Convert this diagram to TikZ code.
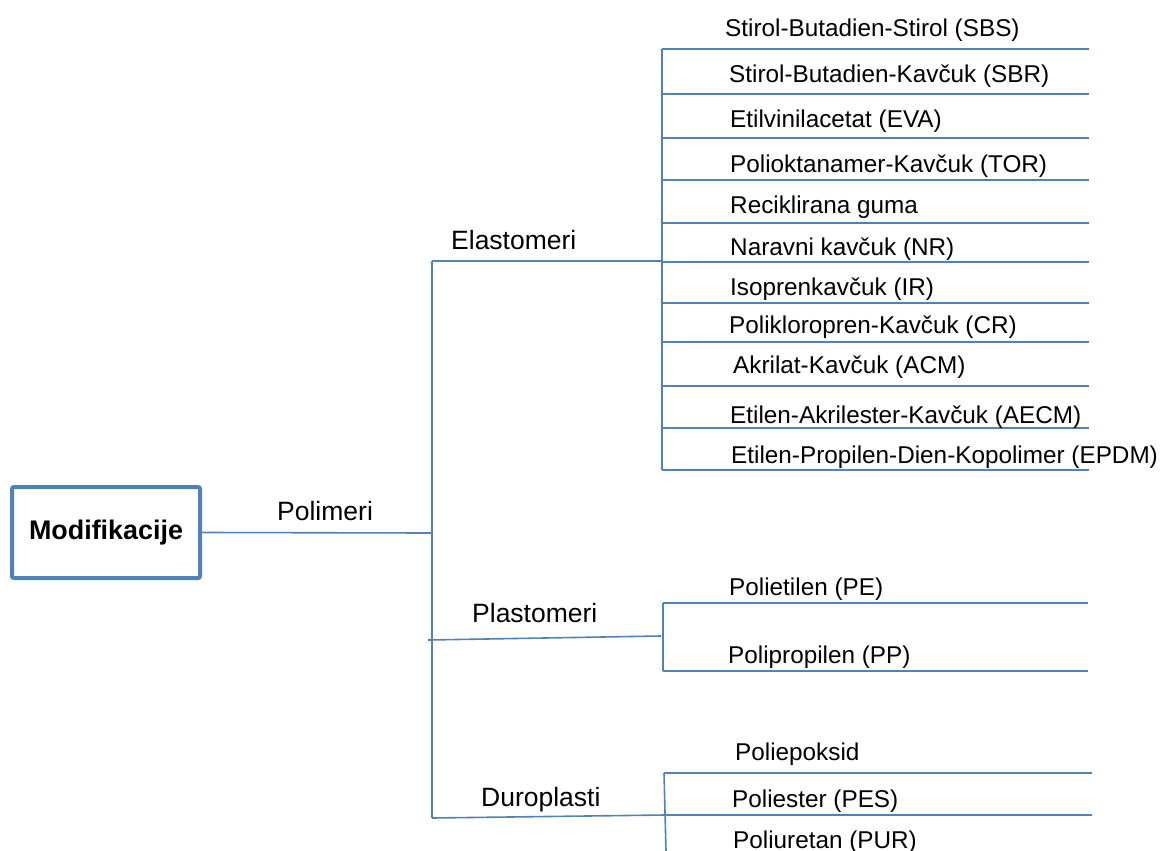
\documentclass[tikz,border=0pt]{standalone}
\usepackage{fontspec}
\setmainfont{Liberation Sans}
\definecolor{lineblue}{HTML}{4F81BD}
\begin{document}
\begin{tikzpicture}[x=1pt,y=-1pt,
  conn/.style={draw=lineblue,line width=1.6pt},
  leaf/.style={anchor=base west,inner sep=0pt,font=\fontsize{24.3}{29}\selectfont},
  branch/.style={anchor=base west,inner sep=0pt,font=\fontsize{26.5}{31}\selectfont},
  rootbox/.style={draw=lineblue,line width=4pt,rounded corners=2pt,minimum width=188pt,minimum height=91pt,inner sep=0pt,font=\fontsize{26.9}{31}\selectfont\bfseries}]
\useasboundingbox (0,0) rectangle (1163,851);
% root
\node[rootbox] (mod) at (106,532.5) {Modifikacije};
% junctions
\coordinate (polend) at (431,533);
\coordinate (ttop) at (432,261);
\coordinate (tbot) at (432,818);
\coordinate (eljoin) at (662,261);
\coordinate (pljoinL) at (428,640);
\coordinate (pljoin) at (661,636);
\coordinate (dujoin) at (665,815);
\coordinate (elT) at (662,49);
\coordinate (elB) at (662,470);
\coordinate (plT) at (663,603);
\coordinate (plB) at (663,671);
\coordinate (duT) at (664,773);
\coordinate (duB) at (666,851);
% connectors
\draw[conn] (mod.east) -- (polend);
\draw[conn] (ttop) -- (tbot);
\draw[conn] (ttop) -- (eljoin);
\draw[conn] (pljoinL) -- (pljoin);
\draw[conn] (tbot) -- (dujoin);
\draw[conn] (elT) -- (elB);
\draw[conn] (plT) -- (plB);
\draw[conn] (duT) -- (duB);
% leaf lines
\foreach \y [count=\i] in {49,94,138,180,223,262,303,342,386,428,470} {
  \coordinate (eA\i) at (662,\y);
  \coordinate (eB\i) at (1089,\y);
  \draw[conn] (eA\i) -- (eB\i);
}
\coordinate (pA1) at (663,603); \coordinate (pB1) at (1088,603);
\coordinate (pA2) at (663,671); \coordinate (pB2) at (1088,671);
\draw[conn] (pA1) -- (pB1);
\draw[conn] (pA2) -- (pB2);
\coordinate (dA1) at (664,773); \coordinate (dB1) at (1092,773);
\coordinate (dB2) at (1092,815);
\draw[conn] (dA1) -- (dB1);
\draw[conn] (dujoin) -- (dB2);
% branch labels
\node[branch] (tpol) at (277,520) {Polimeri};
\node[branch] (tela) at (451,249) {Elastomeri};
\node[branch] (tpla) at (472,622) {Plastomeri};
\node[branch] (tdur) at (481,806) {Duroplasti};
% leaf labels
\node[leaf] (l1) at (725,37) {Stirol-Butadien-Stirol (SBS)};
\node[leaf] (l2) at (729,83) {Stirol-Butadien-Kavčuk (SBR)};
\node[leaf] (l3) at (730,128) {Etilvinilacetat (EVA)};
\node[leaf] (l4) at (730,172) {Polioktanamer-Kavčuk (TOR)};
\node[leaf] (l5) at (730,213) {Reciklirana guma};
\node[leaf] (l6) at (730,255) {Naravni kavčuk (NR)};
\node[leaf] (l7) at (730,295) {Isoprenkavčuk (IR)};
\node[leaf] (l8) at (729,333) {Polikloropren-Kavčuk (CR)};
\node[leaf] (l9) at (733,373) {Akrilat-Kavčuk (ACM)};
\node[leaf] (l10) at (730,423) {Etilen-Akrilester-Kavčuk (AECM)};
\node[leaf] (l11) at (731,463) {Etilen-Propilen-Dien-Kopolimer (EPDM)};
\node[leaf] (l12) at (729,595) {Polietilen (PE)};
\node[leaf] (l13) at (728,663) {Polipropilen (PP)};
\node[leaf] (l14) at (735,760) {Poliepoksid};
\node[leaf] (l15) at (732,807) {Poliester (PES)};
\node[leaf] (l16) at (733,848) {Poliuretan (PUR)};
\end{tikzpicture}
\end{document}
